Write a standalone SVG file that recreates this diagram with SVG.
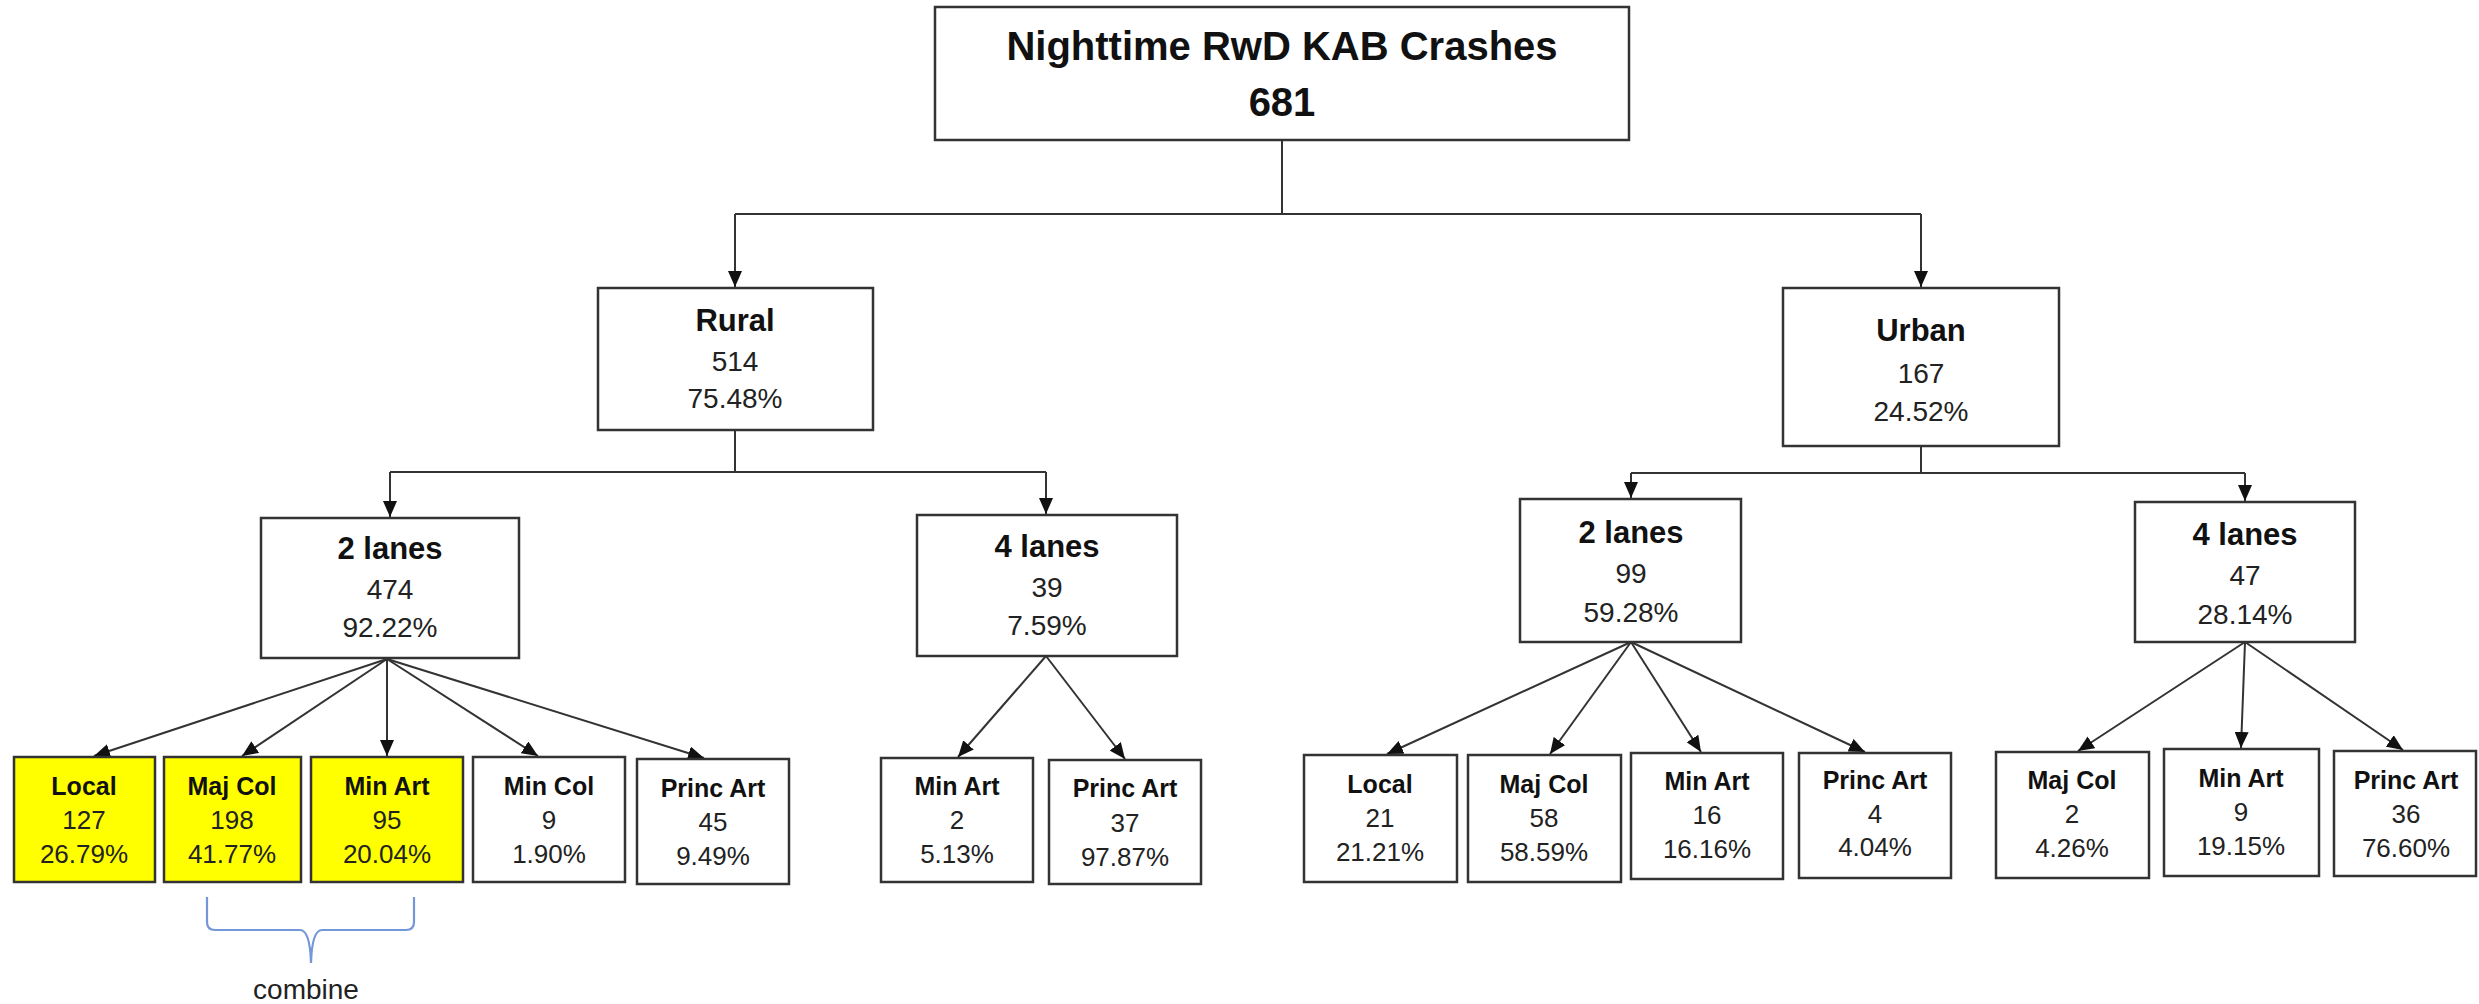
<svg xmlns="http://www.w3.org/2000/svg" width="2479" height="1004" viewBox="0 0 2479 1004">
<defs>
<style>
.box{fill:#fff;stroke:#333;stroke-width:2.5}
.hl{fill:#ffff00}
.c{fill:none;stroke:#333;stroke-width:2}
.t{font-family:"Liberation Sans",Arial,sans-serif;text-anchor:middle;fill:#111}
.h0{font-size:40px;font-weight:bold}
.h1{font-size:31px;font-weight:bold}
.n1{font-size:28px;fill:#222}
.h2{font-size:25px;font-weight:bold}
.n2{font-size:26px;fill:#222}
</style>
<marker id="ar" markerUnits="userSpaceOnUse" markerWidth="16" markerHeight="14" refX="16" refY="7" orient="auto">
<path d="M0,0 L16,7 L0,14 z" fill="#111"/>
</marker>
</defs>
<rect width="2479" height="1004" fill="#fff"/>

<g id="connectors">
<path class="c" d="M1282,140 V214 M735,214 H1921"/>
<path class="c" d="M735,214 V287" marker-end="url(#ar)"/>
<path class="c" d="M1921,214 V287" marker-end="url(#ar)"/>
<path class="c" d="M735,430 V472 M390,472 H1046"/>
<path class="c" d="M390,472 V517" marker-end="url(#ar)"/>
<path class="c" d="M1046,472 V514" marker-end="url(#ar)"/>
<path class="c" d="M1921,446 V473 M1631,473 H2245"/>
<path class="c" d="M1631,473 V498" marker-end="url(#ar)"/>
<path class="c" d="M2245,473 V501" marker-end="url(#ar)"/>
<path class="c" d="M387,659 L94,756" marker-end="url(#ar)"/>
<path class="c" d="M387,659 L242,756" marker-end="url(#ar)"/>
<path class="c" d="M387,659 L387,756" marker-end="url(#ar)"/>
<path class="c" d="M387,659 L538,756" marker-end="url(#ar)"/>
<path class="c" d="M387,659 L704,758" marker-end="url(#ar)"/>
<polygon points="383,643 373,655 391,657" fill="#111"/>
<path class="c" d="M1046,656 L958,757" marker-end="url(#ar)"/>
<path class="c" d="M1046,656 L1125,759" marker-end="url(#ar)"/>
<path class="c" d="M1631,642 L1387,754" marker-end="url(#ar)"/>
<path class="c" d="M1631,642 L1550,754" marker-end="url(#ar)"/>
<path class="c" d="M1631,642 L1701,752" marker-end="url(#ar)"/>
<path class="c" d="M1631,642 L1865,752" marker-end="url(#ar)"/>
<path class="c" d="M2245,642 L2078,751" marker-end="url(#ar)"/>
<path class="c" d="M2245,642 L2241,748" marker-end="url(#ar)"/>
<path class="c" d="M2245,642 L2403,750" marker-end="url(#ar)"/>
</g>

<g id="root">
<rect class="box" x="935" y="7" width="694" height="133"/>
<text class="t h0" x="1282" y="60">Nighttime RwD KAB Crashes</text>
<text class="t h0" x="1282" y="116">681</text>
</g>

<g id="rural">
<rect class="box" x="598" y="288" width="275" height="142"/>
<text class="t h1" x="735" y="331">Rural</text>
<text class="t n1" x="735" y="371">514</text>
<text class="t n1" x="735" y="408">75.48%</text>
</g>

<g id="urban">
<rect class="box" x="1783" y="288" width="276" height="158"/>
<text class="t h1" x="1921" y="341">Urban</text>
<text class="t n1" x="1921" y="383">167</text>
<text class="t n1" x="1921" y="421">24.52%</text>
</g>

<g id="rural-2lanes">
<rect class="box" x="261" y="518" width="258" height="140"/>
<text class="t h1" x="390" y="559">2 lanes</text>
<text class="t n1" x="390" y="599">474</text>
<text class="t n1" x="390" y="637">92.22%</text>
</g>

<g id="rural-4lanes">
<rect class="box" x="917" y="515" width="260" height="141"/>
<text class="t h1" x="1047" y="557">4 lanes</text>
<text class="t n1" x="1047" y="597">39</text>
<text class="t n1" x="1047" y="635">7.59%</text>
</g>

<g id="urban-2lanes">
<rect class="box" x="1520" y="499" width="221" height="143"/>
<text class="t h1" x="1631" y="543">2 lanes</text>
<text class="t n1" x="1631" y="583">99</text>
<text class="t n1" x="1631" y="622">59.28%</text>
</g>

<g id="urban-4lanes">
<rect class="box" x="2135" y="502" width="220" height="140"/>
<text class="t h1" x="2245" y="545">4 lanes</text>
<text class="t n1" x="2245" y="585">47</text>
<text class="t n1" x="2245" y="624">28.14%</text>
</g>

<g id="r2-local">
<rect class="box hl" x="14" y="757" width="141" height="125"/>
<text class="t h2" x="84" y="795">Local</text>
<text class="t n2" x="84" y="829">127</text>
<text class="t n2" x="84" y="863">26.79%</text>
</g>
<g id="r2-majcol">
<rect class="box hl" x="164" y="757" width="137" height="125"/>
<text class="t h2" x="232" y="795">Maj Col</text>
<text class="t n2" x="232" y="829">198</text>
<text class="t n2" x="232" y="863">41.77%</text>
</g>
<g id="r2-minart">
<rect class="box hl" x="311" y="757" width="152" height="125"/>
<text class="t h2" x="387" y="795">Min Art</text>
<text class="t n2" x="387" y="829">95</text>
<text class="t n2" x="387" y="863">20.04%</text>
</g>
<g id="r2-mincol">
<rect class="box" x="473" y="757" width="152" height="125"/>
<text class="t h2" x="549" y="795">Min Col</text>
<text class="t n2" x="549" y="829">9</text>
<text class="t n2" x="549" y="863">1.90%</text>
</g>
<g id="r2-princart">
<rect class="box" x="637" y="759" width="152" height="125"/>
<text class="t h2" x="713" y="797">Princ Art</text>
<text class="t n2" x="713" y="831">45</text>
<text class="t n2" x="713" y="865">9.49%</text>
</g>

<g id="r4-minart">
<rect class="box" x="881" y="758" width="152" height="124"/>
<text class="t h2" x="957" y="795">Min Art</text>
<text class="t n2" x="957" y="829">2</text>
<text class="t n2" x="957" y="863">5.13%</text>
</g>
<g id="r4-princart">
<rect class="box" x="1049" y="760" width="152" height="124"/>
<text class="t h2" x="1125" y="797">Princ Art</text>
<text class="t n2" x="1125" y="832">37</text>
<text class="t n2" x="1125" y="866">97.87%</text>
</g>

<g id="u2-local">
<rect class="box" x="1304" y="755" width="153" height="127"/>
<text class="t h2" x="1380" y="793">Local</text>
<text class="t n2" x="1380" y="827">21</text>
<text class="t n2" x="1380" y="861">21.21%</text>
</g>
<g id="u2-majcol">
<rect class="box" x="1468" y="755" width="153" height="127"/>
<text class="t h2" x="1544" y="793">Maj Col</text>
<text class="t n2" x="1544" y="827">58</text>
<text class="t n2" x="1544" y="861">58.59%</text>
</g>
<g id="u2-minart">
<rect class="box" x="1631" y="753" width="152" height="126"/>
<text class="t h2" x="1707" y="790">Min Art</text>
<text class="t n2" x="1707" y="824">16</text>
<text class="t n2" x="1707" y="858">16.16%</text>
</g>
<g id="u2-princart">
<rect class="box" x="1799" y="753" width="152" height="125"/>
<text class="t h2" x="1875" y="789">Princ Art</text>
<text class="t n2" x="1875" y="823">4</text>
<text class="t n2" x="1875" y="856">4.04%</text>
</g>

<g id="u4-majcol">
<rect class="box" x="1996" y="752" width="153" height="126"/>
<text class="t h2" x="2072" y="789">Maj Col</text>
<text class="t n2" x="2072" y="823">2</text>
<text class="t n2" x="2072" y="857">4.26%</text>
</g>
<g id="u4-minart">
<rect class="box" x="2164" y="749" width="155" height="127"/>
<text class="t h2" x="2241" y="787">Min Art</text>
<text class="t n2" x="2241" y="821">9</text>
<text class="t n2" x="2241" y="855">19.15%</text>
</g>
<g id="u4-princart">
<rect class="box" x="2334" y="751" width="142" height="125"/>
<text class="t h2" x="2406" y="789">Princ Art</text>
<text class="t n2" x="2406" y="823">36</text>
<text class="t n2" x="2406" y="857">76.60%</text>
</g>

<g id="combine-brace">
<path d="M207,897 V922 Q207,930 215,930 H300 Q310,930 311,963 Q312,930 322,930 H406 Q414,930 414,922 V897" fill="none" stroke="#7397d8" stroke-width="2.2"/>
<text class="t" x="306" y="999" style="font-size:28px;fill:#222">combine</text>
</g>
</svg>
